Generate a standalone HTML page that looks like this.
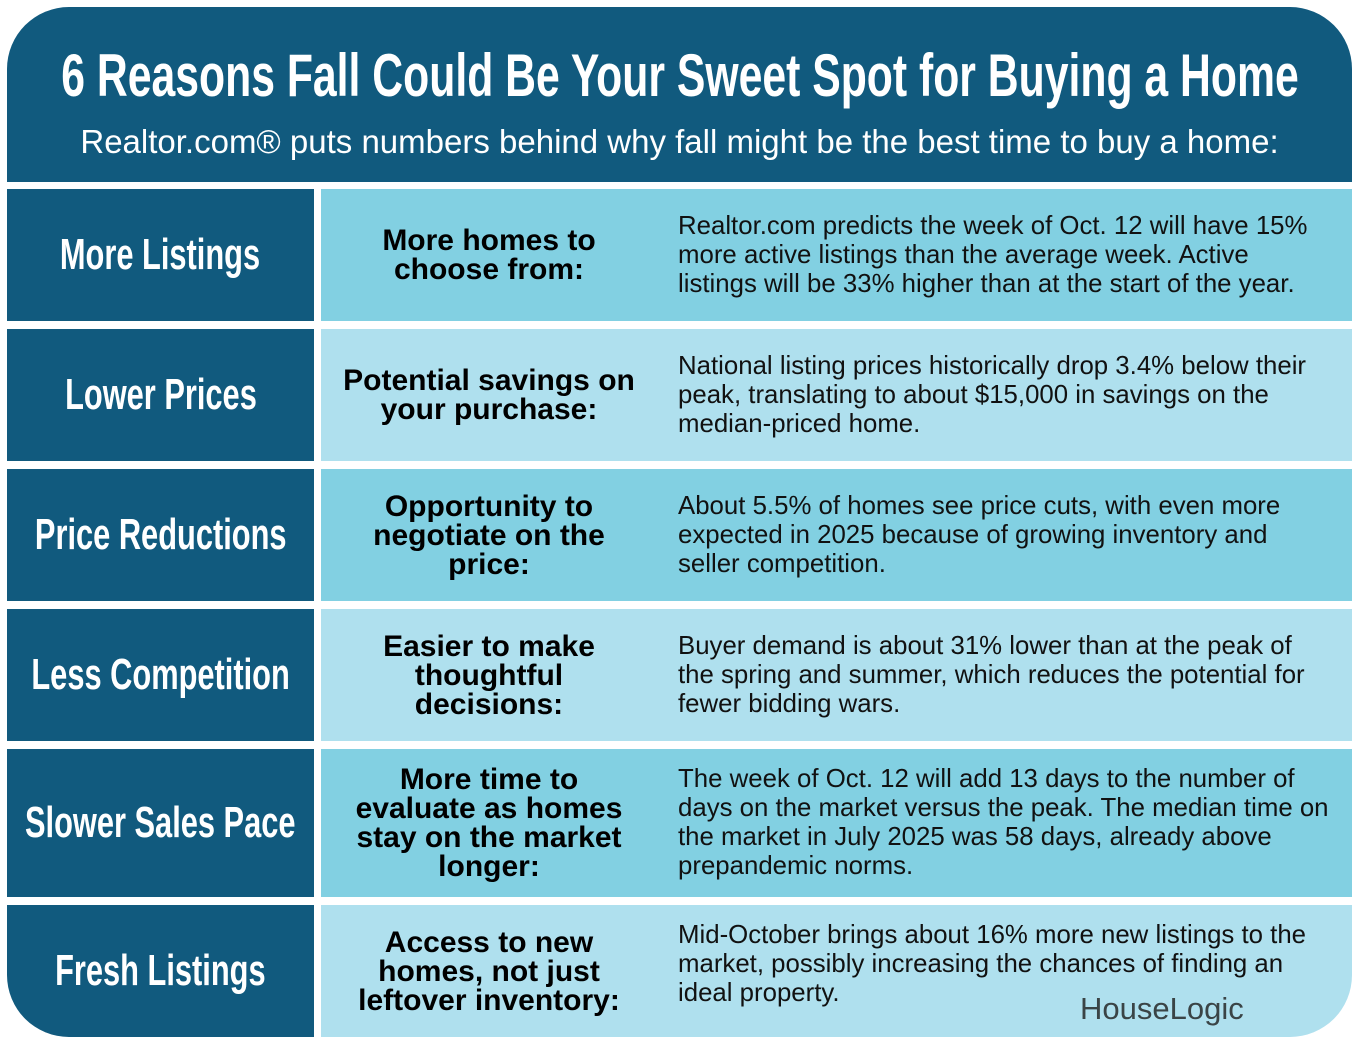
<!DOCTYPE html>
<html><head><style>
body{margin:0;width:1359px;height:1047px;background:#fff;position:relative;overflow:hidden;font-family:"Liberation Sans",sans-serif}
.wrap{position:absolute;left:7px;top:7px;width:1345px;height:1030px;border-radius:62px;overflow:hidden;background:#fff}
.hd{position:absolute;left:0;top:0;width:1345px;height:175px;background:#115a7e;color:#fff;text-align:center}
.t{position:absolute;top:36px;left:0;width:100%;height:66px}
.t span{position:absolute;left:50%;top:0;white-space:nowrap;font-weight:bold;font-size:60px;line-height:66px;transform:translateX(-50%) scaleX(0.712)}
.s{position:absolute;top:116px;left:0;width:100%;font-size:33px;line-height:38px;white-space:nowrap}
.l{position:absolute;left:0;width:307px;background:#115a7e;color:#fff;display:flex;align-items:center;justify-content:center;white-space:nowrap}
.l span{display:inline-block;font-weight:bold;font-size:44px;transform:scaleX(0.7)}
.r{position:absolute;left:314px;width:1031px}
.m{position:absolute;left:0;width:336px;height:100%;display:flex;align-items:center;justify-content:center;text-align:center;font-weight:bold;font-size:30px;line-height:29px;color:#000;white-space:nowrap}
.d{position:absolute;left:357px;width:680px;height:100%;display:flex;align-items:center;font-size:25.8px;line-height:29px;color:#111;white-space:nowrap}
.a{background:#82d0e2}.b{background:#afe0ee}
</style></head><body>
<div class="wrap">
<div class="hd"><div class="t"><span>6 Reasons Fall Could Be Your Sweet Spot for Buying a Home</span></div><div class="s">Realtor.com® puts numbers behind why fall might be the best time to buy a home:</div></div>

<div class="l" style="top:182px;height:132px"><span>More Listings</span></div>
<div class="r a" style="top:182px;height:132px"><div class="m">More homes to<br>choose from:</div><div class="d">Realtor.com predicts the week of Oct. 12 will have 15%<br>more active listings than the average week. Active<br>listings will be 33% higher than at the start of the year.</div></div>

<div class="l" style="top:322px;height:132px"><span>Lower Prices</span></div>
<div class="r b" style="top:322px;height:132px"><div class="m">Potential savings on<br>your purchase:</div><div class="d">National listing prices historically drop 3.4% below their<br>peak, translating to about $15,000 in savings on the<br>median-priced home.</div></div>

<div class="l" style="top:462px;height:132px"><span>Price Reductions</span></div>
<div class="r a" style="top:462px;height:132px"><div class="m">Opportunity to<br>negotiate on the<br>price:</div><div class="d">About 5.5% of homes see price cuts, with even more<br>expected in 2025 because of growing inventory and<br>seller competition.</div></div>

<div class="l" style="top:602px;height:132px"><span>Less Competition</span></div>
<div class="r b" style="top:602px;height:132px"><div class="m">Easier to make<br>thoughtful<br>decisions:</div><div class="d">Buyer demand is about 31% lower than at the peak of<br>the spring and summer, which reduces the potential for<br>fewer bidding wars.</div></div>

<div class="l" style="top:742px;height:148px"><span>Slower Sales Pace</span></div>
<div class="r a" style="top:742px;height:148px"><div class="m">More time to<br>evaluate as homes<br>stay on the market<br>longer:</div><div class="d">The week of Oct. 12 will add 13 days to the number of<br>days on the market versus the peak. The median time on<br>the market in July 2025 was 58 days, already above<br>prepandemic norms.</div></div>

<div class="l" style="top:898px;height:132px"><span>Fresh Listings</span></div>
<div class="r b" style="top:898px;height:132px"><div class="m">Access to new<br>homes, not just<br>leftover inventory:</div><div class="d" style="align-items:flex-start;top:16px">Mid-October brings about 16% more new listings to the<br>market, possibly increasing the chances of finding an<br>ideal property.</div>
<div style="position:absolute;left:759px;top:86px;font-size:31px;color:#3a4446">HouseLogic</div></div>
</div>
</body></html>
